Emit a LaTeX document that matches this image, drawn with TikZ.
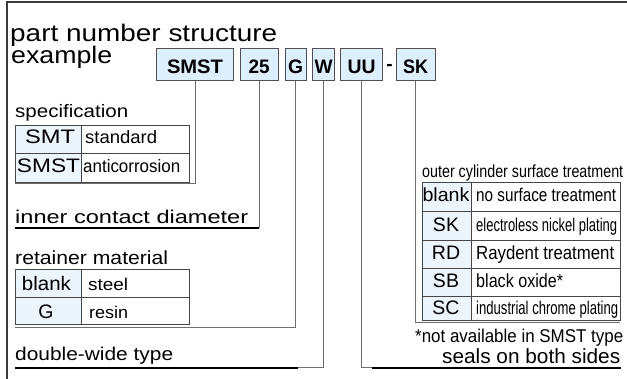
\documentclass[tikz,border=0pt]{standalone}
\usepackage{fontspec}
\setmainfont{Liberation Sans}
\usepackage{graphicx}
\newcommand\fw[2]{\resizebox{#1pt}{\height}{#2}}
\newcommand\fs[1]{\fontsize{#1}{#1}\selectfont}
\definecolor{tagfill}{RGB}{221,238,252}
\definecolor{tagline}{RGB}{80,80,80}
\definecolor{cellfill}{RGB}{236,244,252}
\definecolor{cellline}{RGB}{70,70,70}
\definecolor{leadgray}{RGB}{110,110,110}
\definecolor{framegray}{RGB}{60,60,60}
\begin{document}
\begin{tikzpicture}[x=1pt,y=-1pt,
 tag/.style={draw=tagline, fill=tagfill, line width=1pt, inner sep=0pt, minimum height=31.7pt, font=\bfseries\fs{19.5}, text height=19pt, text depth=0pt},
 cellL/.style={draw=cellline, fill=cellfill, line width=0.8pt, inner sep=0pt, anchor=north west},
 cellR/.style={draw=cellline, fill=white, line width=0.8pt, inner sep=0pt, anchor=north west},
 txt/.style={inner sep=0pt, anchor=base west},
 ctxt/.style={inner sep=0pt, anchor=base},
 lead/.style={draw=leadgray, line width=1pt},
 uline/.style={draw=black, line width=1.3pt},
]
\useasboundingbox (0,0) rectangle (627,379);
\fill[white] (0,0) rectangle (627,379);
% frame
\coordinate (fb) at (7,379);
\coordinate (ftl) at (7,2);
\coordinate (ftr) at (627,2);
\draw[framegray, line width=1.4pt] (fb) -- (ftl) -- (ftr);

% title
\node[txt, font=\fs{24}] (title) at (10,41.5) {\fw{267}{part number structure}};
\node[txt, font=\fs{24}] (example) at (11,63.5) {\fw{101}{example}};

% tags
\node[tag, minimum width=76.6pt] (tSMST) at (195,64.2) {\fw{56}{SMST}};
\node[tag, minimum width=38.3pt] (t25) at (259.2,64.2) {\fw{21}{25}};
\node[tag, minimum width=21pt] (tG) at (295.6,64.2) {\fw{15}{G}};
\node[tag, minimum width=22.3pt] (tW) at (323.5,64.2) {\fw{18}{W}};
\node[tag, minimum width=41.6pt] (tUU) at (361.6,64.2) {\fw{28}{UU}};
\node[ctxt, font=\bfseries\fs{19}] (dash) at (389.5,71) {-};
\node[tag, minimum width=39pt] (tSK) at (415.5,64.2) {\fw{25}{SK}};

% leader end points
\coordinate (e1) at (15,184);
\coordinate (e2) at (15,228);
\coordinate (e3) at (15,327.5);
\coordinate (e4) at (15,368);
\coordinate (e5) at (621,368);
\coordinate (e6) at (620,323);

% specification
\node[txt, font=\fs{18}] (spec) at (15,118) {\fw{113}{specification}};
\node[cellL, minimum width=66pt, minimum height=28.5pt] (s11) at (15,125) {};
\node[cellR, minimum width=108pt, minimum height=28.5pt] (s12) at (81,125) {};
\node[cellL, minimum width=66pt, minimum height=28.5pt] (s21) at (15,153.5) {};
\node[cellR, minimum width=108pt, minimum height=28.5pt] (s22) at (81,153.5) {};
\node[ctxt, font=\fs{19.5}] (smt) at (50,144) {\fw{50}{SMT}};
\node[ctxt, font=\fs{19.5}] (smst) at (48.5,172.5) {\fw{63}{SMST}};
\node[txt, font=\fs{18}] (std) at (85,144) {\fw{72}{standard}};
\node[txt, font=\fs{18}] (anti) at (83,172.5) {\fw{97}{anticorrosion}};
\draw[lead] (tSMST.south) |- (e1);

% inner contact diameter
\node[txt, font=\fs{18.5}] (icd) at (15,224) {\fw{233}{inner contact diameter}};
\draw[lead] (t25.south) |- (e2);
\draw[uline] (e2) -- (e2 -| t25.south);

% retainer material
\node[txt, font=\fs{19}] (ret) at (15,265) {\fw{153}{retainer material}};
\node[cellL, minimum width=66pt, minimum height=28pt] (r11) at (15,269) {};
\node[cellR, minimum width=108pt, minimum height=28pt] (r12) at (81,269) {};
\node[cellL, minimum width=66pt, minimum height=27pt] (r21) at (15,297) {};
\node[cellR, minimum width=108pt, minimum height=27pt] (r22) at (81,297) {};
\node[ctxt, font=\fs{19.5}] (rblank) at (46.5,290.7) {\fw{49}{blank}};
\node[ctxt, font=\fs{19.5}] (rG) at (46,319) {G};
\node[txt, font=\fs{17}] (steel) at (88,290.7) {\fw{40}{steel}};
\node[txt, font=\fs{17}] (resin) at (89,319) {\fw{39}{resin}};
\draw[lead] (tG.south) |- (e3);

% double-wide type
\node[txt, font=\fs{18.5}] (dw) at (15,361) {\fw{158}{double-wide type}};
\draw[lead] (tW.south) |- (e4);
\coordinate (dwend) at (298,368);
\draw[uline] (e4) -- (dwend);

% outer cylinder surface treatment
\node[txt, font=\fs{17.5}] (oc) at (422,178) {\fw{201}{outer cylinder surface treatment}};
\draw[lead] (tSK.south) |- (e6);
\node[cellL, minimum width=48.5pt, minimum height=29.5pt] (o11) at (422,182) {};
\node[cellR, minimum width=149.5pt, minimum height=29.5pt] (o12) at (470.5,182) {};
\node[cellL, minimum width=48.5pt, minimum height=28.2pt] (o21) at (422,211.5) {};
\node[cellR, minimum width=149.5pt, minimum height=28.2pt] (o22) at (470.5,211.5) {};
\node[cellL, minimum width=48.5pt, minimum height=28.2pt] (o31) at (422,239.7) {};
\node[cellR, minimum width=149.5pt, minimum height=28.2pt] (o32) at (470.5,239.7) {};
\node[cellL, minimum width=48.5pt, minimum height=28.1pt] (o41) at (422,267.9) {};
\node[cellR, minimum width=149.5pt, minimum height=28.1pt] (o42) at (470.5,267.9) {};
\node[cellL, minimum width=48.5pt, minimum height=24pt] (o51) at (422,296) {};
\node[cellR, minimum width=149.5pt, minimum height=24pt] (o52) at (470.5,296) {};
\node[ctxt, font=\fs{19}] (oblank) at (446,202) {\fw{47}{blank}};
\node[ctxt, font=\fs{19.5}] (oSK) at (446,232) {SK};
\node[ctxt, font=\fs{19.5}] (oRD) at (446,260) {RD};
\node[ctxt, font=\fs{19.5}] (oSB) at (446,288) {SB};
\node[ctxt, font=\fs{19.5}] (oSC) at (446,314.5) {SC};
\node[txt, font=\fs{18.5}] (nst) at (476,202) {\fw{140}{no surface treatment}};
\node[txt, font=\fs{18.5}] (enp) at (476,232) {\fw{141}{electroless nickel plating}};
\node[txt, font=\fs{19}] (rdt) at (476,260) {\fw{138}{Raydent treatment}};
\node[txt, font=\fs{19}] (bo) at (476,288) {\fw{87}{black oxide*}};
\node[txt, font=\fs{18.5}] (icp) at (476,314.5) {\fw{142}{industrial chrome plating}};

\node[txt, font=\fs{18.5}] (na) at (415,343) {\fw{208}{*not available in SMST type}};
\node[txt, font=\fs{20.5}] (seals) at (442,364) {\fw{178}{seals on both sides}};
\draw[lead] (tUU.south) |- (e5);
\coordinate (sealsbeg) at (372,368);
\draw[uline] (sealsbeg) -- (e5);
\end{tikzpicture}
\end{document}
